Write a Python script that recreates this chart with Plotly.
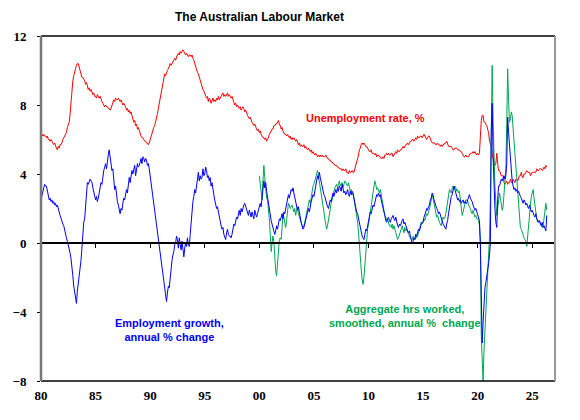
import pandas as pd
import plotly.graph_objects as go

# Unemployment rate, % (monthly, Jan 1980 - May 2026)
unemp = [
    6.1, 6.3, 6.2, 6.3, 6.2, 6.2, 6.1, 6.2, 6.0, 6.0, 5.9, 6.0,  # 1980
    5.9, 5.8, 5.7, 5.8, 5.6, 5.5, 5.4, 5.6, 5.5, 5.7, 5.7, 5.8,  # 1981
    6.0, 6.1, 6.2, 6.3, 6.4, 6.7, 6.9, 7.0, 7.5, 8.2, 8.8, 9.4,  # 1982
    9.7, 10.0, 10.1, 10.3, 10.4, 10.4, 10.2, 10.0, 9.9, 9.6, 9.6, 9.5,  # 1983
    9.4, 9.2, 9.3, 9.1, 8.9, 9.0, 8.8, 8.9, 8.7, 8.6, 8.7, 8.5,  # 1984
    8.5, 8.4, 8.6, 8.5, 8.4, 8.5, 8.3, 8.2, 8.1, 8.0, 7.9, 8.0,  # 1985
    7.9, 7.9, 7.8, 7.8, 7.7, 7.8, 8.0, 8.2, 8.3, 8.2, 8.4, 8.3,  # 1986
    8.3, 8.4, 8.3, 8.2, 8.3, 8.1, 8.0, 8.1, 8.0, 7.9, 7.7, 7.8,  # 1987
    7.6, 7.7, 7.5, 7.6, 7.4, 7.2, 7.0, 7.1, 6.8, 6.9, 6.6, 6.7,  # 1988
    6.5, 6.4, 6.2, 6.1, 6.1, 6.0, 5.9, 5.9, 5.8, 5.8, 5.7, 5.8,  # 1989
    6.0, 6.1, 6.3, 6.5, 6.7, 6.8, 7.0, 7.2, 7.5, 7.8, 8.1, 8.4,  # 1990
    8.7, 9.0, 9.3, 9.6, 9.8, 9.7, 9.9, 10.0, 10.1, 10.3, 10.4, 10.3,  # 1991
    10.4, 10.5, 10.6, 10.7, 10.6, 10.8, 10.9, 11.0, 10.9, 11.1, 11.0, 11.1,  # 1992
    11.2, 11.1, 11.0, 10.9, 11.0, 10.9, 10.8, 10.9, 10.9, 10.8, 10.9, 10.7,  # 1993
    10.6, 10.4, 10.2, 10.0, 9.9, 9.8, 9.6, 9.4, 9.2, 9.1, 8.9, 8.8,  # 1994
    8.7, 8.5, 8.4, 8.5, 8.2, 8.4, 8.3, 8.1, 8.3, 8.4, 8.2, 8.3,  # 1995
    8.2, 8.4, 8.3, 8.5, 8.3, 8.4, 8.5, 8.6, 8.7, 8.5, 8.6, 8.5,  # 1996
    8.6, 8.7, 8.5, 8.6, 8.5, 8.4, 8.5, 8.3, 8.1, 8.0, 8.1, 7.9,  # 1997
    8.0, 7.9, 7.8, 7.9, 7.7, 7.8, 7.9, 7.8, 7.6, 7.7, 7.5, 7.4,  # 1998
    7.3, 7.2, 7.3, 7.1, 7.0, 6.9, 6.8, 6.9, 6.7, 6.6, 6.5, 6.6,  # 1999
    6.4, 6.5, 6.3, 6.2, 6.1, 6.1, 6.0, 6.1, 5.9, 6.0, 6.1, 6.3,  # 2000
    6.4, 6.5, 6.6, 6.6, 6.8, 6.8, 6.9, 6.9, 7.0, 7.1, 6.9, 6.8,  # 2001
    6.6, 6.7, 6.5, 6.4, 6.3, 6.3, 6.2, 6.3, 6.2, 6.1, 6.2, 6.0,  # 2002
    6.1, 6.0, 6.1, 6.0, 5.9, 6.0, 5.8, 5.7, 5.8, 5.6, 5.7, 5.6,  # 2003
    5.6, 5.7, 5.5, 5.6, 5.5, 5.4, 5.5, 5.4, 5.3, 5.4, 5.2, 5.3,  # 2004
    5.2, 5.1, 5.2, 5.1, 5.0, 5.1, 5.0, 5.1, 5.0, 5.1, 5.0, 5.0,  # 2005
    5.0, 5.1, 5.0, 4.9, 4.9, 4.8, 4.8, 4.7, 4.7, 4.6, 4.6, 4.5,  # 2006
    4.5, 4.5, 4.4, 4.4, 4.3, 4.3, 4.3, 4.2, 4.3, 4.2, 4.2, 4.3,  # 2007
    4.1, 4.1, 4.0, 4.2, 4.1, 4.1, 4.2, 4.1, 4.1, 4.3, 4.5, 4.6,  # 2008
    4.8, 5.1, 5.4, 5.5, 5.7, 5.8, 5.7, 5.8, 5.7, 5.6, 5.6, 5.5,  # 2009
    5.4, 5.3, 5.3, 5.4, 5.2, 5.2, 5.2, 5.1, 5.2, 5.0, 5.1, 5.1,  # 2010
    5.0, 5.0, 4.9, 4.9, 5.0, 4.9, 5.1, 5.1, 5.2, 5.1, 5.2, 5.1,  # 2011
    5.1, 5.2, 5.2, 5.0, 5.1, 5.2, 5.3, 5.2, 5.4, 5.3, 5.3, 5.4,  # 2012
    5.4, 5.5, 5.6, 5.5, 5.6, 5.7, 5.7, 5.8, 5.7, 5.8, 5.9, 5.9,  # 2013
    6.0, 6.0, 5.9, 6.0, 6.1, 6.0, 6.2, 6.1, 6.1, 6.2, 6.2, 6.1,  # 2014
    6.2, 6.3, 6.2, 6.1, 6.0, 6.1, 6.2, 6.2, 6.0, 5.9, 5.8, 5.8,  # 2015
    5.8, 5.8, 5.7, 5.7, 5.8, 5.7, 5.7, 5.6, 5.7, 5.6, 5.7, 5.7,  # 2016
    5.8, 5.8, 5.9, 5.7, 5.6, 5.6, 5.6, 5.6, 5.5, 5.4, 5.4, 5.5,  # 2017
    5.5, 5.5, 5.4, 5.4, 5.4, 5.3, 5.3, 5.2, 5.1, 5.0, 5.0, 5.1,  # 2018
    5.0, 5.0, 5.0, 5.1, 5.2, 5.2, 5.2, 5.3, 5.2, 5.3, 5.2, 5.1,  # 2019
    5.2, 5.1, 5.2, 6.4, 7.1, 7.4, 7.4, 7.0, 7.0, 6.9, 6.8, 6.6,  # 2020
    6.4, 5.9, 5.7, 5.6, 5.1, 4.9, 4.6, 4.5, 4.6, 5.2, 4.6, 4.2,  # 2021
    4.2, 4.0, 3.9, 3.9, 3.9, 3.5, 3.4, 3.5, 3.6, 3.4, 3.5, 3.5,  # 2022
    3.7, 3.5, 3.5, 3.7, 3.6, 3.5, 3.7, 3.7, 3.6, 3.8, 3.9, 3.9,  # 2023
    4.1, 3.8, 3.8, 4.0, 4.0, 4.1, 4.2, 4.1, 4.1, 4.1, 3.9, 4.0,  # 2024
    4.1, 4.1, 4.1, 4.1, 4.1, 4.3, 4.2, 4.2, 4.3, 4.3, 4.3, 4.2,  # 2025
    4.3, 4.4, 4.3, 4.5, 4.4,  # 2026
]

# Employment growth, annual % change (monthly, Jan 1980 - May 2026)
emp_growth = [
    2.5, 2.8, 3.1, 3.2, 3.4, 3.3, 3.3, 3.0, 2.7, 2.5, 2.6, 2.4,  # 1980
    2.5, 2.3, 2.4, 2.2, 2.3, 2.1, 2.2, 1.9, 1.8, 1.6, 1.4, 1.3,  # 1981
    1.1, 1.0, 0.7, 0.5, 0.3, 0.1, -0.1, -0.4, -0.6, -0.9, -1.3, -1.9,  # 1982
    -2.5, -2.8, -3.0, -3.5, -2.8, -2.4, -2.0, -1.6, -1.0, -0.3, 0.5, 1.2,  # 1983
    1.4, 2.2, 3.0, 3.5, 3.4, 3.6, 3.7, 3.6, 3.5, 3.2, 2.9, 2.6,  # 1984
    2.5, 2.7, 2.4, 2.6, 2.9, 3.2, 3.5, 3.4, 3.9, 4.2, 4.4, 4.6,  # 1985
    4.3, 4.9, 5.1, 5.4, 5.0, 4.6, 4.2, 4.3, 3.6, 3.1, 3.3, 2.6,  # 1986
    2.4, 2.2, 1.8, 1.7, 2.0, 1.9, 2.3, 2.6, 2.5, 2.8, 3.1, 2.9,  # 1987
    3.4, 3.8, 3.5, 3.9, 4.2, 4.0, 4.4, 4.5, 3.9, 4.2, 4.6, 4.4,  # 1988
    4.5, 4.7, 4.9, 4.6, 5.0, 4.9, 4.7, 4.9, 4.8, 4.5, 4.6, 4.3,  # 1989
    3.9, 3.5, 3.0, 2.7, 2.2, 1.8, 1.3, 1.0, 0.6, 0.2, -0.2, -0.6,  # 1990
    -1.0, -1.4, -1.8, -2.2, -2.6, -3.0, -3.4, -2.9, -2.5, -2.6, -2.0, -1.5,  # 1991
    -1.0, -0.7, -0.5, -0.1, 0.0, 0.4, 0.2, -0.3, 0.3, -0.1, -0.4, 0.1,  # 1992
    -0.6, -0.8, -0.3, 0.0, -0.2, 0.3, -0.1, -0.2, 0.5, 1.2, 2.1, 2.4,  # 1993
    2.7, 3.1, 2.9, 3.4, 3.9, 4.1, 3.6, 3.9, 3.7, 3.8, 4.3, 3.9,  # 1994
    4.0, 4.4, 4.2, 3.8, 3.9, 3.6, 3.8, 3.3, 3.5, 3.0, 2.8, 2.5,  # 1995
    2.3, 2.0, 2.1, 1.8, 1.4, 1.2, 1.0, 0.8, 0.9, 0.5, 0.3, 0.2,  # 1996
    0.6, 0.8, 0.5, 0.4, 0.4, 0.3, 0.5, 0.9, 1.1, 1.0, 1.3, 1.5,  # 1997
    1.4, 1.7, 1.9, 1.6, 2.0, 1.8, 2.1, 2.2, 2.3, 2.1, 2.0, 1.8,  # 1998
    1.6, 1.9, 1.7, 1.5, 1.8, 1.6, 1.4, 1.9, 1.6, 1.5, 1.7, 1.9,  # 1999
    2.0, 2.3, 2.1, 2.7, 3.4, 3.6, 3.2, 3.5, 3.0, 2.6, 2.2, 2.0,  # 2000
    1.7, 1.3, 1.1, 0.9, 0.6, 0.5, 0.7, 1.0, 0.8, 1.2, 1.4, 1.3,  # 2001
    1.5, 1.7, 1.4, 1.8, 1.7, 2.0, 2.2, 2.4, 2.8, 2.6, 2.9, 3.1,  # 2002
    3.0, 3.2, 2.9, 2.6, 2.4, 2.0, 1.9, 2.1, 1.6, 1.5, 1.2, 1.0,  # 2003
    0.8, 0.9, 1.1, 1.4, 1.7, 1.9, 2.0, 1.8, 2.2, 2.4, 2.6, 2.8,  # 2004
    2.7, 3.0, 3.2, 3.4, 3.9, 3.7, 4.1, 3.8, 3.5, 3.2, 3.0, 2.8,  # 2005
    2.7, 2.5, 2.2, 2.1, 2.0, 2.3, 2.5, 2.4, 2.8, 2.9, 2.7, 3.0,  # 2006
    3.1, 2.9, 3.2, 3.0, 3.3, 3.2, 3.0, 3.4, 3.1, 2.9, 3.0, 2.8,  # 2007
    2.9, 3.1, 2.8, 2.7, 3.0, 2.8, 3.0, 2.9, 2.6, 2.3, 2.0, 1.8,  # 2008
    1.7, 1.4, 1.1, 0.9, 0.6, 0.4, 0.3, 0.2, 0.5, 0.8, 0.7, 1.0,  # 2009
    1.3, 1.5, 1.8, 1.7, 2.0, 2.2, 2.1, 2.4, 2.6, 2.8, 2.7, 2.9,  # 2010
    2.7, 2.8, 2.5, 2.3, 2.1, 1.8, 1.6, 1.3, 1.2, 1.4, 1.5, 1.3,  # 2011
    1.2, 1.4, 1.5, 1.6, 1.4, 1.3, 1.5, 1.2, 1.0, 0.9, 1.1, 1.0,  # 2012
    1.2, 1.3, 1.4, 1.1, 1.2, 1.0, 0.8, 0.7, 0.6, 0.7, 0.4, 0.2,  # 2013
    0.0, 0.1, 0.3, 0.2, 0.5, 0.4, 0.6, 0.8, 0.7, 1.0, 1.1, 1.2,  # 2014
    1.2, 1.5, 1.6, 1.8, 2.0, 1.9, 2.1, 2.2, 2.5, 2.6, 2.9, 2.8,  # 2015
    2.5, 2.3, 2.1, 2.0, 1.9, 1.7, 1.8, 1.6, 1.5, 1.3, 1.1, 1.0,  # 2016
    0.9, 0.8, 1.1, 1.3, 1.7, 2.1, 2.4, 2.7, 2.8, 3.0, 3.3, 3.1,  # 2017
    2.9, 2.7, 2.5, 2.6, 2.4, 2.5, 2.3, 2.4, 2.5, 2.3, 2.4, 2.3,  # 2018
    2.3, 2.5, 2.6, 2.8, 2.6, 2.5, 2.4, 2.2, 2.0, 1.9, 2.0, 1.8,  # 2019
    1.7, 1.5, 1.3, 0.0, -2.5, -5.8, -4.6, -3.0, -2.6, -2.3, -2.0, -1.7,  # 2020
    -1.2, -0.7, 0.0, 6.5, 8.1, 5.0, 2.9, 2.0, 1.2, 0.9, 2.5, 3.3,  # 2021
    3.3, 3.5, 3.7, 3.6, 3.8, 3.9, 3.7, 3.9, 4.6, 7.3, 6.4, 5.6,  # 2022
    4.9, 4.1, 3.6, 3.3, 3.1, 3.2, 3.0, 3.1, 2.9, 3.0, 2.8, 2.7,  # 2023
    2.6, 2.4, 2.3, 2.5, 2.4, 2.2, 2.3, 2.1, 2.0, 2.2, 1.9, 1.8,  # 2024
    1.9, 1.7, 1.6, 1.5, 1.7, 1.4, 1.3, 1.2, 1.3, 1.1, 1.0, 1.2,  # 2025
    0.9, 1.0, 0.8, 0.7, 1.6,  # 2026
]

# Aggregate hours worked, smoothed, annual % change (monthly, Jan 2000 - May 2026)
hours_growth = [
    3.9, 3.5, 3.0, 2.5, 3.6, 4.5, 3.8, 3.0, 2.6, 2.5, 2.1, 1.4,  # 2000
    0.5, -0.5, 0.0, 0.4, 0.1, -0.9, -1.6, -1.9, -1.2, -0.4, 0.2, 0.3,  # 2001
    0.2, 0.9, 1.7, 1.5, 1.1, 0.9, 1.3, 1.8, 2.3, 2.2, 2.0, 2.1,  # 2002
    2.2, 2.0, 1.8, 2.0, 1.6, 1.9, 2.1, 1.7, 1.5, 1.3, 1.2, 1.0,  # 2003
    0.9, 1.0, 1.2, 1.5, 1.8, 2.1, 2.4, 2.5, 2.3, 2.7, 3.0, 3.3,  # 2004
    3.4, 3.6, 3.8, 4.0, 4.2, 3.9, 3.5, 3.4, 3.0, 2.6, 2.2, 1.8,  # 2005
    1.4, 1.1, 0.8, 1.0, 1.4, 1.8, 2.1, 2.3, 2.5, 2.8, 3.0, 3.2,  # 2006
    3.3, 3.4, 3.2, 3.5, 3.6, 3.3, 3.4, 3.5, 3.2, 3.4, 3.6, 3.5,  # 2007
    3.4, 3.3, 3.5, 3.2, 3.0, 3.1, 2.8, 2.9, 2.6, 2.3, 1.9, 1.5,  # 2008
    1.2, 0.6, -0.2, -0.8, -1.5, -2.1, -2.4, -2.0, -1.2, -0.4, 0.3, 0.8,  # 2009
    1.1, 1.4, 1.7, 2.0, 2.5, 2.9, 3.3, 3.6, 3.4, 3.1, 3.2, 3.0,  # 2010
    2.9, 3.1, 2.8, 2.5, 2.2, 1.9, 1.6, 1.5, 1.3, 1.4, 1.2, 1.0,  # 2011
    1.0, 0.9, 1.1, 0.8, 1.0, 0.7, 0.6, 0.4, 0.2, 0.3, 0.5, 0.7,  # 2012
    0.9, 1.0, 0.8, 0.6, 0.9, 0.7, 0.8, 0.6, 0.5, 0.4, 0.3, 0.2,  # 2013
    0.2, 0.4, 0.3, 0.2, 0.5, 0.3, 0.4, 0.6, 0.8, 1.0, 1.2, 1.1,  # 2014
    1.2, 1.4, 1.3, 1.5, 1.7, 1.6, 1.8, 1.9, 2.2, 2.5, 2.8, 2.6,  # 2015
    2.3, 2.0, 1.7, 1.5, 1.6, 1.3, 1.2, 1.1, 1.0, 1.3, 1.5, 1.4,  # 2016
    1.5, 1.7, 2.0, 2.4, 2.8, 3.1, 3.0, 2.9, 3.2, 3.3, 3.1, 3.3,  # 2017
    3.2, 3.0, 3.1, 2.9, 3.0, 2.6, 2.1, 1.6, 1.8, 2.0, 2.3, 2.5,  # 2018
    2.5, 2.4, 2.2, 2.1, 2.0, 1.8, 1.7, 1.9, 1.6, 1.5, 1.6, 1.4,  # 2019
    1.4, 1.3, 1.0, 0.0, -5.4, -7.0, -8.0, -6.2, -5.0, -3.8, -2.5, -1.6,  # 2020
    -0.8, 0.4, 2.5, 6.0, 10.3, 7.0, 4.5, 3.3, 2.4, 1.6, 2.0, 2.6,  # 2021
    2.9, 2.6, 2.2, 1.9, 2.1, 2.8, 3.5, 4.3, 7.0, 10.1, 8.2, 7.0,  # 2022
    7.2, 7.6, 7.4, 6.4, 5.7, 5.2, 4.5, 3.7, 2.9, 2.2, 1.5, 0.9,  # 2023
    0.8, 0.6, 0.4, 0.3, 0.2, 0.1, -0.2, 0.3, 0.9, 1.6, 2.2, 2.7,  # 2024
    2.9, 3.1, 2.6, 2.1, 1.6, 1.4, 1.2, 1.3, 1.2, 1.1, 1.0, 0.9,  # 2025
    1.0, 1.6, 2.0, 2.3, 1.9,  # 2026
]

tick_years = [1980, 1985, 1990, 1995, 2000, 2005, 2010, 2015, 2020, 2025]
tick_labels = ["80", "85", "90", "95", "00", "05", "10", "15", "20", "25"]
y_ticks = [-8, -4, 0, 4, 8, 12]

dates_main = pd.date_range("1980-01-01", periods=len(unemp), freq="MS")
dates_hours = pd.date_range("2000-01-01", periods=len(hours_growth), freq="MS")
tick_dates = [f"{y}-01-01" for y in tick_years]

RED = "#FF0000"
BLUE = "#0000FF"
GREEN = "#00A651"

fig = go.Figure()
fig.add_trace(go.Scatter(x=dates_main, y=unemp, mode="lines",
                         line=dict(color=RED, width=1), hoverinfo="skip"))
fig.add_trace(go.Scatter(x=dates_hours, y=hours_growth, mode="lines",
                         line=dict(color=GREEN, width=1), hoverinfo="skip"))
fig.add_trace(go.Scatter(x=dates_main[:len(emp_growth)], y=emp_growth, mode="lines",
                         line=dict(color=BLUE, width=1), hoverinfo="skip"))
# invisible trace to activate the zero-line axis
fig.add_trace(go.Scatter(x=[dates_main[0]], y=[0], xaxis="x2", mode="lines",
                         line=dict(width=0), hoverinfo="skip"))

xrange = ["1980-01-01", "2027-02-01"]
tickfont = dict(family="Liberation Serif, Times New Roman, serif", size=13,
                color="black", weight="bold")

fig.update_layout(
    width=580, height=420,
    margin=dict(l=32, r=25, t=36, b=39),
    paper_bgcolor="white", plot_bgcolor="white",
    showlegend=False,
    xaxis=dict(type="date", range=xrange, tickmode="array", tickvals=tick_dates,
               ticktext=tick_labels, ticks="", showgrid=False, zeroline=False,
               showline=False, tickfont=tickfont, ticklabelstandoff=5),
    xaxis2=dict(type="date", range=xrange, overlaying="x", anchor="free",
                position=0.4, side="bottom", tickmode="array", tickvals=tick_dates,
                showticklabels=False, ticks="outside", ticklen=4, tickwidth=1,
                tickcolor="black", showline=True, linecolor="black", linewidth=1.5,
                showgrid=False, zeroline=False),
    yaxis=dict(range=[-8, 12], tickmode="array", tickvals=y_ticks,
               ticks="outside", ticklen=3, tickcolor="black", showgrid=False,
               zeroline=False, showline=False, tickfont=tickfont,
               ticklabelstandoff=8),
)

# frame
fig.add_shape(type="line", xref="paper", yref="paper", x0=0, x1=1, y0=1, y1=1,
              line=dict(color="black", width=1.5))
fig.add_shape(type="line", xref="paper", yref="paper", x0=0, x1=1, y0=0, y1=0,
              line=dict(color="black", width=1.5))
fig.add_shape(type="line", xref="paper", yref="paper", x0=0, x1=0, y0=0, y1=1,
              line=dict(color="#777777", width=2.5))
fig.add_shape(type="line", xref="paper", yref="paper", x0=1, x1=1, y0=0, y1=1,
              line=dict(color="#999999", width=2))

lab_font = dict(family="Liberation Sans", size=11, weight="bold")
fig.add_annotation(xref="paper", yref="paper", x=0.631, y=0.762,
                   xanchor="center", yanchor="middle",
                   text="Unemployment rate, %", showarrow=False,
                   font=dict(lab_font, color=RED))
fig.add_annotation(xref="paper", yref="paper", x=0.25, y=0.148,
                   xanchor="center", yanchor="middle",
                   text="Employment growth,<br>annual % change", showarrow=False,
                   font=dict(lab_font, color=BLUE))
fig.add_annotation(xref="paper", yref="paper", x=0.709, y=0.188,
                   xanchor="center", yanchor="middle",
                   text="Aggregate hrs worked,<br>smoothed, annual %\u00a0 change",
                   showarrow=False, font=dict(lab_font, color=GREEN))
fig.add_annotation(xref="paper", yref="paper", x=0.4245, y=1.055,
                   xanchor="center", yanchor="middle",
                   text="The Australian Labour Market", showarrow=False,
                   font=dict(family="Liberation Sans", size=12, weight="bold",
                             color="black"))

fig.write_html("out.html")
